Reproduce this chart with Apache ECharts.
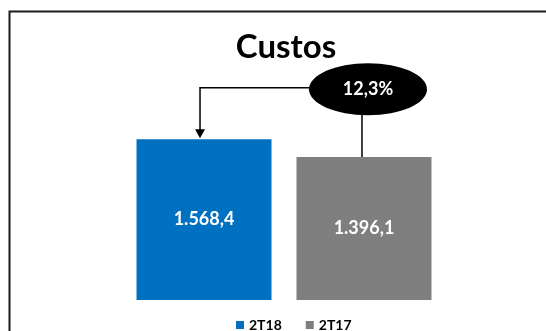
<!DOCTYPE html>
<html><head><meta charset="utf-8">
<script src="https://cdn.jsdelivr.net/npm/echarts@6/dist/echarts.min.js"></script>
<style>html,body{margin:0;padding:0;background:#fff}#c{width:546px;height:331px}</style>
</head><body><div id="c"></div>
<script>
const categories = ['Custos'];
const seriesNames = ['2T18', '2T17'];
const values2T18 = [1568.4];
const values2T17 = [1396.1];
const changeLabel = '12,3%';
const colors = ['#0070C0', '#7F7F7F'];

function fmt(v) {
  const parts = v.toFixed(1).split('.');
  return parts[0].replace(/\B(?=(\d{3})+(?!\d))/g, '.') + ',' + parts[1];
}
const font = 'Lato, "Open Sans", sans-serif';
const chart = echarts.init(document.getElementById('c'), null, {renderer: 'canvas'});
const labelStyle = {show: true, position: 'inside', formatter: p => fmt(p.value), color: '#fff', fontFamily: font, fontWeight: 'bold', fontSize: 18};
chart.setOption({
  animation: false,
  backgroundColor: '#fff',
  title: {text: 'Custos', left: 281, textAlign: 'center', top: 26, textStyle: {fontFamily: font, fontWeight: 'bold', fontSize: 33, color: '#000'}},
  legend: {top: 313, left: 231, itemWidth: 8, itemHeight: 8, itemGap: 24, icon: 'rect', data: seriesNames,
    textStyle: {fontFamily: font, fontWeight: 'bold', fontSize: 14, color: '#000'}},
  grid: {left: 110, right: 88, top: 95, bottom: 31},
  xAxis: {type: 'category', data: categories, show: false},
  yAxis: {type: 'value', min: 0, max: 2000, show: false},
  series: [
    {name: seriesNames[0], type: 'bar', data: values2T18, barWidth: 135, barGap: '18.5%', itemStyle: {color: colors[0]}, label: labelStyle},
    {name: seriesNames[1], type: 'bar', data: values2T17, barWidth: 135, barGap: '18.5%', itemStyle: {color: colors[1]}, label: labelStyle}
  ]
});

function barLayout(i) {
  try {
    const l = chart.getModel().getSeriesByIndex(i).getData().getItemLayout(0);
    if (l) return {cx: l.x + l.width / 2, top: Math.min(l.y, l.y + l.height)};
  } catch (e) {}
  const c = chart.convertToPixel({xAxisIndex: 0}, categories[0]);
  const v = i === 0 ? values2T18[0] : values2T17[0];
  return {cx: c + (i === 0 ? -80 : 80), top: chart.convertToPixel({yAxisIndex: 0}, v)};
}
const b0 = barLayout(0), b1 = barLayout(1);
const ecx = b1.cx + 4, ecy = b0.top - 50, rx = 59, ry = 26;
const ax = b0.cx - 4, ly = ecy - 1.5;
chart.setOption({
  graphic: [
    {type: 'polyline', shape: {points: [[9.5, 331], [9.5, 11.5], [546, 11.5]]}, style: {stroke: '#1a1a1a', lineWidth: 2, fill: null}, z: 10},
    {type: 'polyline', shape: {points: [[ecx - rx + 5, ly], [ax, ly], [ax, b0.top - 9]]}, style: {stroke: '#000', lineWidth: 1.5, fill: null}, z: 10},
    {type: 'polygon', shape: {points: [[ax - 5, b0.top - 10], [ax + 5, b0.top - 10], [ax, b0.top - 1]]}, style: {fill: '#000'}, z: 10},
    {type: 'line', shape: {x1: b1.cx - 2, y1: ecy + ry - 2, x2: b1.cx - 2, y2: b1.top}, style: {stroke: '#000', lineWidth: 1.5}, z: 10},
    {type: 'ellipse', shape: {cx: ecx, cy: ecy, rx: rx, ry: ry}, style: {fill: '#000'}, z: 11},
    {type: 'text', x: ecx, y: ecy, style: {text: changeLabel, fill: '#fff', font: 'bold 18px ' + font, align: 'center', verticalAlign: 'middle'}, z: 12}
  ]
});
</script></body></html>
